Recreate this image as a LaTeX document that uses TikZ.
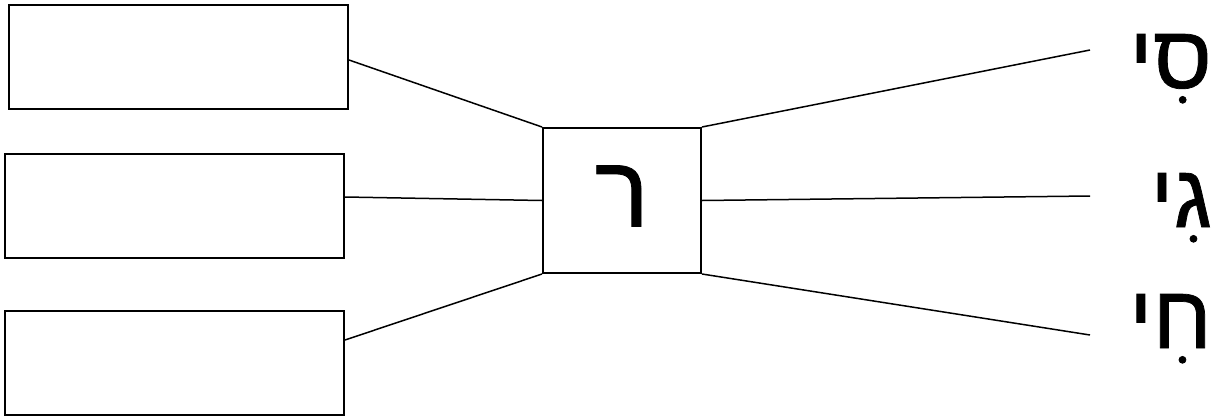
\documentclass[tikz,border=0pt]{standalone}
\usepackage{fontspec}
\newfontfamily\hebfont[Script=Hebrew, FakeBold=0.8]{Liberation Sans}
\TeXXeTstate=1
\usetikzlibrary{positioning}
\tikzset{
  linkline/.style={line width=1.5pt, draw=black},
  slotbox/.style={draw, line width=2pt, minimum width=339pt, minimum height=104pt, inner sep=0pt},
  hublbl/.style={font=\fontsize{102}{106}\selectfont\hebfont},
}
\begin{document}
\begin{tikzpicture}[
  x=1pt, y=-1pt,
  hub/.style={draw, line width=2pt, minimum width=158pt, minimum height=145pt, inner sep=0pt},
  endlbl/.style={font=\fontsize{90}{94}\selectfont\hebfont, anchor=base east, inner sep=0pt},
]
  \useasboundingbox (0,0) rectangle (1221,418);
  % left boxes
  \node[slotbox] (b1) at (178.5,57) {};
  \node[slotbox] (b2) at (174.5,206) {};
  \node[slotbox] (b3) at (174.5,363) {};
  % centre
  \node[hub, hublbl, text depth=9pt] (r) at (622,200.5) {\beginR ר\endR};
  % right ends
  \coordinate (e1) at (1090,50);
  \coordinate (e2) at (1090,196);
  \coordinate (e3) at (1090,335);
  \node[endlbl] (l1) at (1212,88) {\beginR סִי\endR};
  \node[endlbl] (l2) at (1212,227) {\beginR גִי\endR};
  \node[endlbl] (l3) at (1212,348) {\beginR חִי\endR};
  % connectors
  \draw[linkline] ([yshift=-3pt]b1.east) -- (r.north west);
  \draw[linkline] ([yshift=9pt]b2.east) -- (r.west);
  \draw[linkline] ([yshift=23pt]b3.east) -- (r.south west);
  \foreach \a/\b in {north east/e1,east/e2,south east/e3}
    \draw[linkline] (r.\a) -- (\b);
\end{tikzpicture}
\end{document}
